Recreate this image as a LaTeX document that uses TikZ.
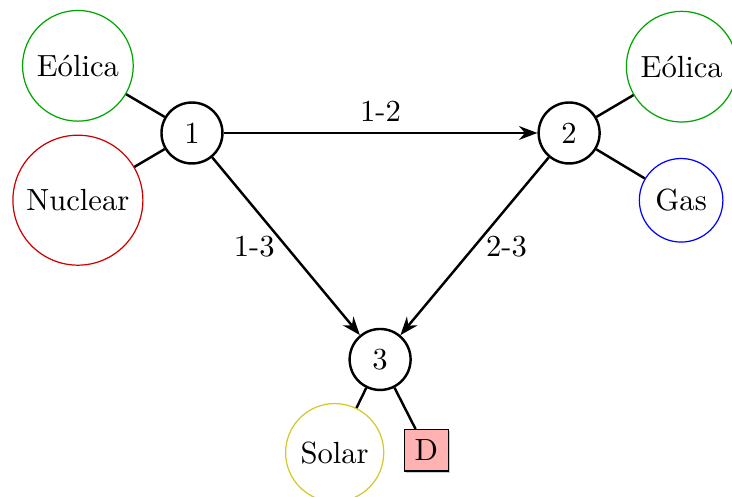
\documentclass[tikz,border=0pt]{standalone}
\usepackage{tikz}
\usetikzlibrary{arrows.meta, positioning, shadows, calc}

\begin{document}
\begin{tikzpicture}[
  bus/.style={circle, draw=black, thick, minimum size=0.7cm, inner sep=0pt},
  gen/.style={circle, draw=#1, thin},
  load/.style={rectangle, draw=black, fill=red!30, thin, drop shadow={shadow xshift=0.6pt, shadow yshift=-0.6pt, opacity=0.4}},
  link/.style={thick},
  arr/.style={-{Stealth[length=6pt]}, thick}
]
\useasboundingbox (-2.204,-4.179) rectangle (6.200,1.527);

% ---- buses ----
\node[bus] (b1) at (0, 0)       {1};
\node[bus] (b2) at (4.33, 0)    {2};
\node[bus] (b3) at (2.16, -2.6) {3};

% ---- generators / loads ----
\node[gen=green!65!black]  (g1a) at (149.5:1.52)       {Eólica};
\node[gen=red!80!black]    (g1b) at (210.5:1.52)       {Nuclear};
\node[gen=green!65!black]  (g2a) at ($(b2)+(30.5:1.5)$)  {Eólica};
\node[gen=blue]            (g2b) at ($(b2)+(-31:1.5)$)   {Gas};
\node[gen=yellow!80!black] (g3)  at ($(b3)+(-116:1.19)$) {Solar};
\node[load]                (d3)  at ($(b3)+(-63:1.17)$)  {D};

\draw[link] (b1) -- (g1a);
\draw[link] (b1) -- (g1b);
\draw[link] (b2) -- (g2a);
\draw[link] (b2) -- (g2b);
\draw[link] (b3) -- (g3);
\draw[link] (b3) -- (d3);

% ---- lines ----
\draw[arr] (b1) -- node[midway, above] {1-2} (b2);
\draw[arr] (b1) -- node[midway, left]  {1-3} (b3);
\draw[arr] (b2) -- node[midway, right] {2-3} (b3);

\end{tikzpicture}
\end{document}
